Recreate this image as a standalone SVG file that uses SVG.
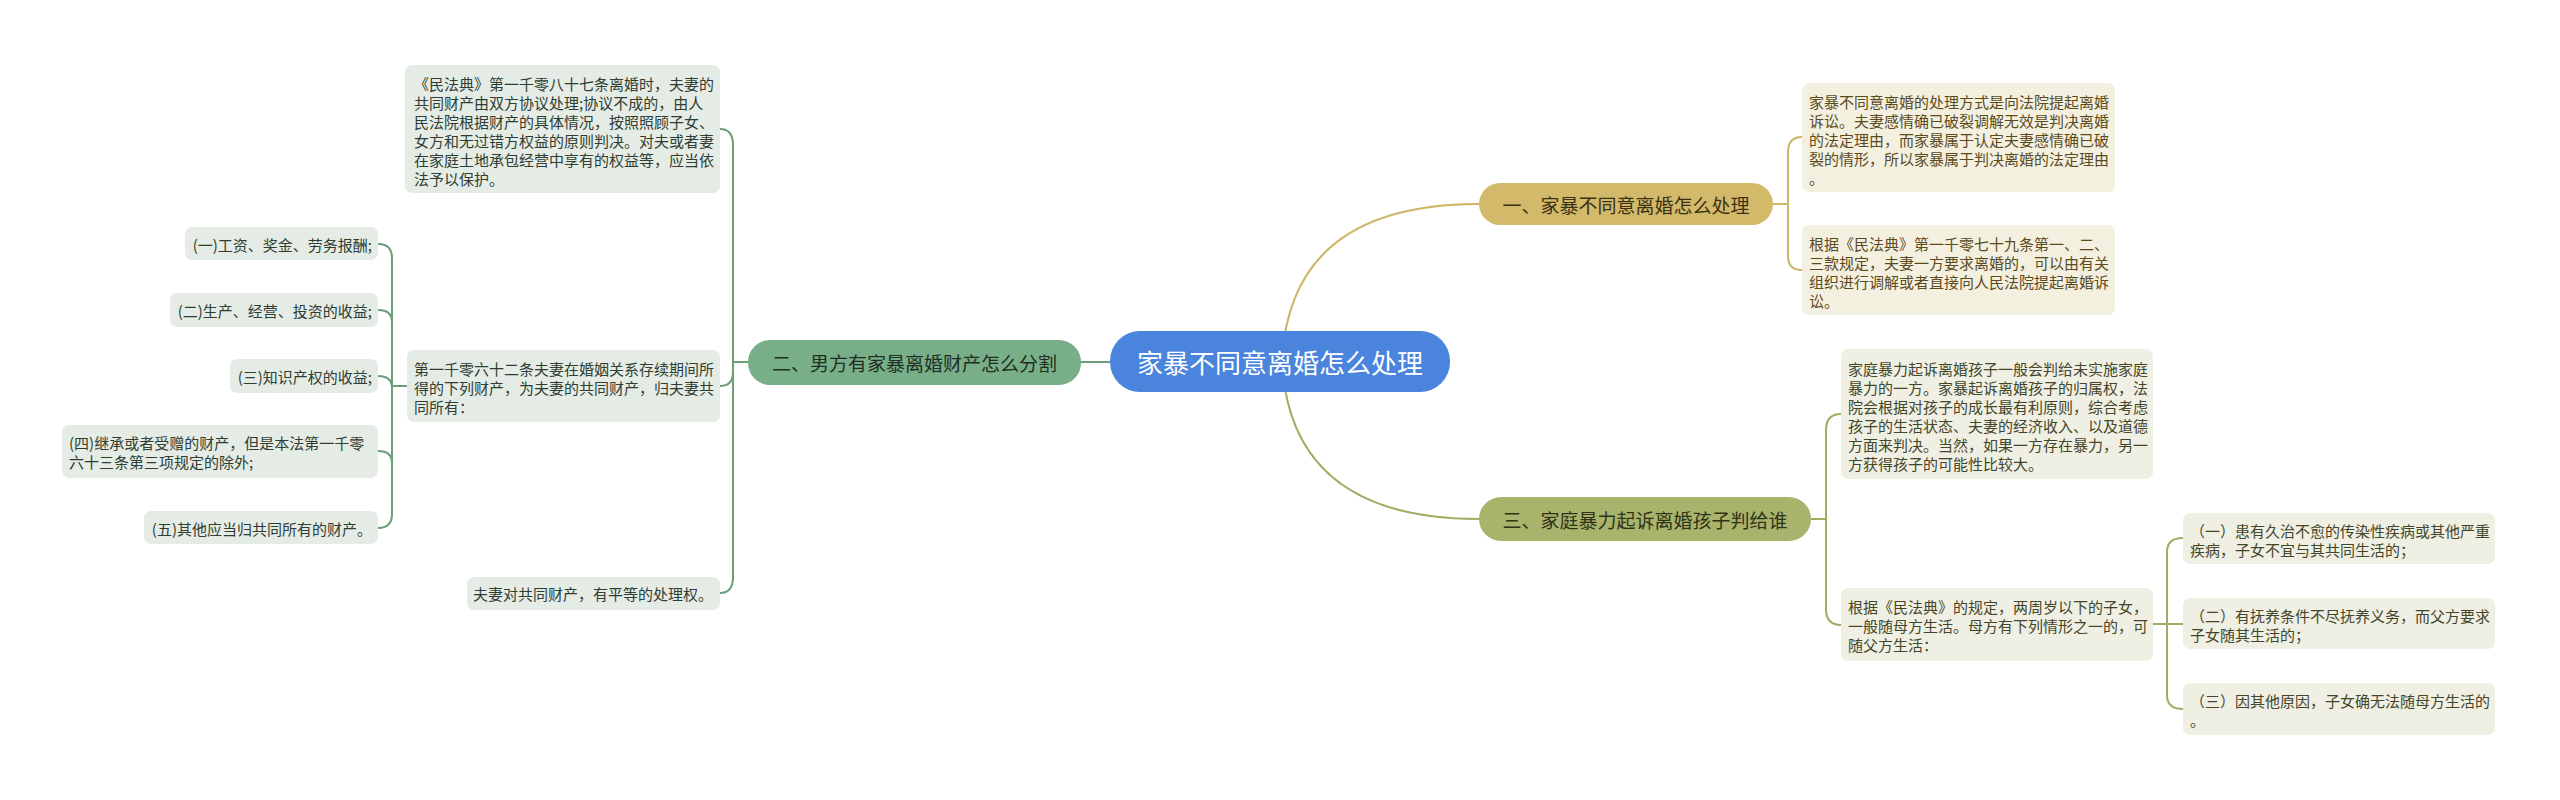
<svg xmlns="http://www.w3.org/2000/svg" width="2560" height="800" viewBox="0 0 2560 800">
<style>
text{font-family:"Noto Sans CJK SC","Noto Sans",sans-serif;dominant-baseline:central}
.t15{font-size:15px}
.g{fill:#2f3d33}
.y{fill:#5a4a1c}
.o{fill:#44462a}
.gb{fill:#e4ece5}
.yb{fill:#f4f0e0}
.ob{fill:#efefe3}
.cg{fill:none;stroke:#6a9f79;stroke-width:2}
.cy{fill:none;stroke:#cdb566;stroke-width:2}
.co{fill:none;stroke:#a3ab62;stroke-width:2}
</style>
<rect width="2560" height="800" fill="#ffffff"/>
<g id="connectors">
<path class="cy" d="M1282,361 Q1290,204 1479,204"/>
<path class="cy" d="M1773,204 H1788"/>
<path class="cy" d="M1802,137 Q1788,137 1788,152 V256 Q1788,270 1802,270"/>
<path class="co" d="M1282,361 Q1290,519 1479,519"/>
<path class="co" d="M1811,519 H1826"/>
<path class="co" d="M1841,414 Q1826,414 1826,430 V609 Q1826,625 1841,625"/>
<path class="co" d="M2152,624 H2183"/>
<path class="co" d="M2183,538 Q2167,538 2167,552 V695 Q2167,709 2183,709"/>
<path class="cg" d="M1110,362 H1081"/>
<path class="cg" d="M748,362 H733"/>
<path class="cg" d="M720,129 Q733,129 733,145 V577 Q733,593 720,593"/>
<path class="cg" d="M720,386 Q733,386 733,372"/>
<path class="cg" d="M407,386 H392"/>
<path class="cg" d="M378,244 Q392,244 392,258 V514 Q392,528 378,528"/>
<path class="cg" d="M378,310 Q392,310 392,322"/>
<path class="cg" d="M378,376 Q392,376 392,388"/>
<path class="cg" d="M378,451 Q392,451 392,463"/>
</g>
<g id="root">
<rect x="1110" y="331" width="340" height="61" rx="30" fill="#4b84dc"/>
<text x="1280" y="361" font-size="26" fill="#ffffff" text-anchor="middle">家暴不同意离婚怎么处理</text>
</g>
<g id="topic1">
<rect x="1479" y="183" width="294" height="42" rx="21" fill="#d3b96a"/>
<text x="1626" y="204" font-size="19" fill="#3b3113" text-anchor="middle">一、家暴不同意离婚怎么处理</text>
</g>
<g id="topic2">
<rect x="748" y="340" width="333" height="45" rx="22" fill="#78ae88"/>
<text x="914.5" y="362" font-size="19" fill="#1f2f24" text-anchor="middle">二、男方有家暴离婚财产怎么分割</text>
</g>
<g id="topic3">
<rect x="1479" y="497" width="332" height="44" rx="22" fill="#a9b36c"/>
<text x="1645" y="519" font-size="19" fill="#2e3317" text-anchor="middle">三、家庭暴力起诉离婚孩子判给谁</text>
</g>
<g id="boxA">
<rect class="yb" x="1802" y="83" width="313" height="109" rx="7"/>
<text class="t15 y" x="1809" y="101">家暴不同意离婚的处理方式是向法院提起离婚</text>
<text class="t15 y" x="1809" y="120">诉讼。夫妻感情确已破裂调解无效是判决离婚</text>
<text class="t15 y" x="1809" y="139">的法定理由，而家暴属于认定夫妻感情确已破</text>
<text class="t15 y" x="1809" y="158">裂的情形，所以家暴属于判决离婚的法定理由</text>
<text class="t15 y" x="1809" y="177">。</text>
</g>
<g id="boxB">
<rect class="yb" x="1802" y="225" width="313" height="90" rx="7"/>
<text class="t15 y" x="1809" y="243">根据《民法典》第一千零七十九条第一、二、</text>
<text class="t15 y" x="1809" y="262">三款规定，夫妻一方要求离婚的，可以由有关</text>
<text class="t15 y" x="1809" y="281">组织进行调解或者直接向人民法院提起离婚诉</text>
<text class="t15 y" x="1809" y="300">讼。</text>
</g>
<g id="boxC">
<rect class="ob" x="1841" y="349" width="312" height="130" rx="7"/>
<text class="t15 o" x="1848" y="368">家庭暴力起诉离婚孩子一般会判给未实施家庭</text>
<text class="t15 o" x="1848" y="387">暴力的一方。家暴起诉离婚孩子的归属权，法</text>
<text class="t15 o" x="1848" y="406">院会根据对孩子的成长最有利原则，综合考虑</text>
<text class="t15 o" x="1848" y="425">孩子的生活状态、夫妻的经济收入、以及道德</text>
<text class="t15 o" x="1848" y="444">方面来判决。当然，如果一方存在暴力，另一</text>
<text class="t15 o" x="1848" y="463">方获得孩子的可能性比较大。</text>
</g>
<g id="boxD">
<rect class="ob" x="1841" y="588" width="312" height="73" rx="7"/>
<text class="t15 o" x="1848" y="606">根据《民法典》的规定，两周岁以下的子女，</text>
<text class="t15 o" x="1848" y="625">一般随母方生活。母方有下列情形之一的，可</text>
<text class="t15 o" x="1848" y="644">随父方生活：</text>
</g>
<g id="boxE">
<rect class="ob" x="2183" y="513" width="312" height="51" rx="7"/>
<text class="t15 o" x="2190" y="530">（一）患有久治不愈的传染性疾病或其他严重</text>
<text class="t15 o" x="2190" y="549">疾病，子女不宜与其共同生活的；</text>
</g>
<g id="boxF">
<rect class="ob" x="2183" y="598" width="312" height="51" rx="7"/>
<text class="t15 o" x="2190" y="615">（二）有抚养条件不尽抚养义务，而父方要求</text>
<text class="t15 o" x="2190" y="634">子女随其生活的；</text>
</g>
<g id="boxG">
<rect class="ob" x="2183" y="683" width="312" height="52" rx="7"/>
<text class="t15 o" x="2190" y="700">（三）因其他原因，子女确无法随母方生活的</text>
<text class="t15 o" x="2190" y="719">。</text>
</g>
<g id="boxL1">
<rect class="gb" x="405" y="65" width="315" height="128" rx="7"/>
<text class="t15 g" x="414" y="83">《民法典》第一千零八十七条离婚时，夫妻的</text>
<text class="t15 g" x="414" y="102">共同财产由双方协议处理;协议不成的，由人</text>
<text class="t15 g" x="414" y="121">民法院根据财产的具体情况，按照照顾子女、</text>
<text class="t15 g" x="414" y="140">女方和无过错方权益的原则判决。对夫或者妻</text>
<text class="t15 g" x="414" y="159">在家庭土地承包经营中享有的权益等，应当依</text>
<text class="t15 g" x="414" y="178">法予以保护。</text>
</g>
<g id="boxL2">
<rect class="gb" x="407" y="350" width="313" height="72" rx="7"/>
<text class="t15 g" x="414" y="368">第一千零六十二条夫妻在婚姻关系存续期间所</text>
<text class="t15 g" x="414" y="387">得的下列财产，为夫妻的共同财产，归夫妻共</text>
<text class="t15 g" x="414" y="406">同所有：</text>
</g>
<g id="boxL3">
<rect class="gb" x="467" y="577" width="253" height="33" rx="7"/>
<text class="t15 g" x="473" y="593">夫妻对共同财产，有平等的处理权。</text>
</g>
<g id="item1">
<rect class="gb" x="185" y="227" width="193" height="33" rx="7"/>
<text class="t15 g" x="372" y="244" text-anchor="end">(一)工资、奖金、劳务报酬;</text>
</g>
<g id="item2">
<rect class="gb" x="170" y="293" width="208" height="34" rx="7"/>
<text class="t15 g" x="372" y="310" text-anchor="end">(二)生产、经营、投资的收益;</text>
</g>
<g id="item3">
<rect class="gb" x="230" y="359" width="148" height="34" rx="7"/>
<text class="t15 g" x="372" y="376" text-anchor="end">(三)知识产权的收益;</text>
</g>
<g id="item4">
<rect class="gb" x="62" y="425" width="316" height="53" rx="7"/>
<text class="t15 g" x="69" y="442">(四)继承或者受赠的财产，但是本法第一千零</text>
<text class="t15 g" x="69" y="461">六十三条第三项规定的除外;</text>
</g>
<g id="item5">
<rect class="gb" x="144" y="511" width="234" height="33" rx="7"/>
<text class="t15 g" x="372" y="528" text-anchor="end">(五)其他应当归共同所有的财产。</text>
</g>
</svg>
